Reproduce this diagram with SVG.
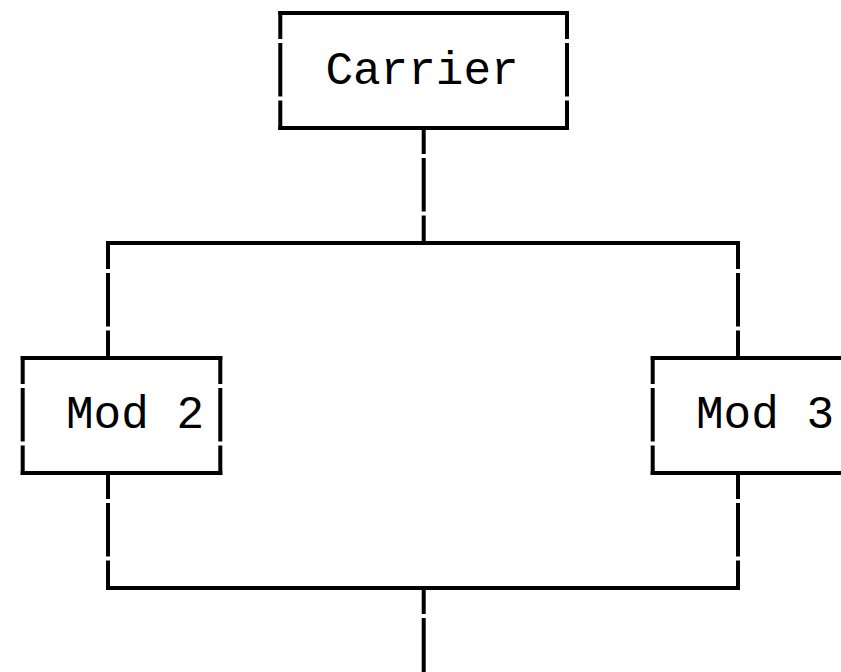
<svg xmlns="http://www.w3.org/2000/svg" width="841" height="672" viewBox="0 0 841 672">
  <style>
    .ln { fill: none; stroke: #000; stroke-width: 4; stroke-linecap: butt; }
    .lbl { font-family: "Liberation Mono", "Courier New", monospace; font-size: 46px; fill: #000; text-anchor: middle; }
  </style>
  <rect x="0" y="0" width="841" height="672" fill="#fff"/>
  <g id="connectors">
    <path class="ln" d="M423.7 128 V154 M423.7 158 V211.5 M423.7 215.5 V243"/>
    <path class="ln" d="M106 243 H740"/>
    <path class="ln" d="M108 243 V269 M108 273 V326.5 M108 330.5 V358"/>
    <path class="ln" d="M738 243 V269 M738 273 V326.5 M738 330.5 V358"/>
    <path class="ln" d="M108 473 V499 M108 503 V556.5 M108 560.5 V588"/>
    <path class="ln" d="M738 473 V499 M738 503 V556.5 M738 560.5 V588"/>
    <path class="ln" d="M106 588 H740"/>
    <path class="ln" d="M423.7 588 V614 M423.7 618 V672"/>
  </g>
  <g id="node-carrier">
    <path class="ln" d="M278.3 13 H569 M278.3 128 H569"/>
    <path class="ln" d="M280.3 11 V39 M280.3 43 V96.5 M280.3 100.5 V130"/>
    <path class="ln" d="M567 11 V39 M567 43 V96.5 M567 100.5 V130"/>
    <text class="lbl" x="422" y="83.5">Carrier</text>
  </g>
  <g id="node-mod2">
    <path class="ln" d="M20.7 358 H222.3 M20.7 473 H222.3"/>
    <path class="ln" d="M22.7 356 V384 M22.7 388 V441.5 M22.7 445.5 V475"/>
    <path class="ln" d="M220.3 356 V384 M220.3 388 V441.5 M220.3 445.5 V475"/>
    <text class="lbl" x="135" y="428">Mod 2</text>
  </g>
  <g id="node-mod3">
    <path class="ln" d="M650.7 358 H860 M650.7 473 H860"/>
    <path class="ln" d="M652.7 356 V384 M652.7 388 V441.5 M652.7 445.5 V475"/>
    <text class="lbl" x="765" y="428">Mod 3</text>
  </g>
</svg>
